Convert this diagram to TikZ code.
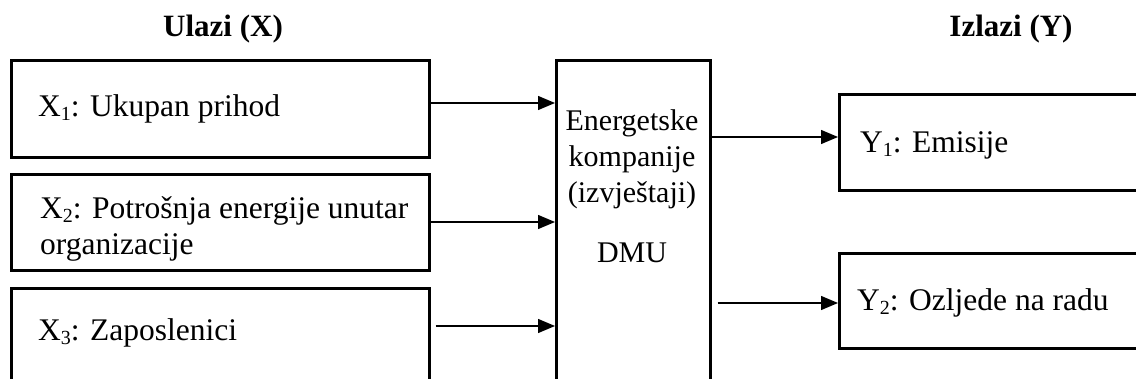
\documentclass[tikz,border=0pt]{standalone}
\usepackage{fontspec}
\setmainfont{Liberation Serif}
\usetikzlibrary{arrows.meta}
\newcommand\subdig[1]{\raisebox{-3.5pt}{\fontsize{20}{20}\selectfont #1}}
\begin{document}
\begin{tikzpicture}[x=1pt,y=-1pt,
  boxnode/.style={draw,line width=2.6pt,inner sep=0pt,anchor=north west},
  boxtext/.style={anchor=base west,inner sep=0pt,font=\fontsize{31.5}{36}\selectfont},
  dmutext/.style={anchor=base,inner sep=0pt,font=\fontsize{30}{34}\selectfont},
  titletext/.style={anchor=base,inner sep=0pt,font=\fontsize{31}{36}\selectfont\bfseries},
  arr/.style={line width=1.3pt,-{Triangle[length=17pt,width=14pt]}}]
\useasboundingbox (0,0) rectangle (1136,379);
\clip (0,0) rectangle (1136,379);
% titles
\node[titletext] (tin) at (223,37) {Ulazi (X)};
\node[titletext] (tout) at (1011,37) {Izlazi (Y)};
% input boxes
\node[boxnode,minimum width=418pt,minimum height=97pt] (x1) at (10,59) {};
\node[boxnode,minimum width=418pt,minimum height=96pt] (x2) at (10,173) {};
\node[boxnode,minimum width=418pt,minimum height=140pt] (x3) at (10,287) {};
% DMU box
\node[boxnode,minimum width=154pt,minimum height=370pt] (dmu) at (555,59) {};
% output boxes
\node[boxnode,minimum width=340pt,minimum height=96pt] (y1) at (838,93) {};
\node[boxnode,minimum width=340pt,minimum height=95pt] (y2) at (838,252) {};
% texts
\node[boxtext] (tx1) at (38,117) {X\subdig{1}: Ukupan prihod};
\node[boxtext] (tx2a) at (40,219) {X\subdig{2}: Potrošnja energije unutar};
\node[boxtext] (tx2b) at (40,255) {organizacije};
\node[boxtext] (tx3) at (38,341) {X\subdig{3}: Zaposlenici};
\node[dmutext] (d1) at (632,131) {Energetske};
\node[dmutext] (d2) at (632,167) {kompanije};
\node[dmutext] (d3) at (632,203) {(izvještaji)};
\node[dmutext] (d4) at (632,263) {DMU};
\node[boxtext] (ty1) at (860,153) {Y\subdig{1}: Emisije};
\node[boxtext] (ty2) at (857,311) {Y\subdig{2}: Ozljede na radu};
% arrows
\draw[arr] (x1.east |- 0,103) -- (dmu.west |- 0,103);
\draw[arr] (x2.east |- 0,222) -- (dmu.west |- 0,222);
\draw[arr] ([xshift=5pt]x3.east |- 0,326) -- (dmu.west |- 0,326);
\draw[arr] (dmu.east |- 0,137) -- (y1.west |- 0,137);
\draw[arr] ([xshift=6pt]dmu.east |- 0,303) -- (y2.west |- 0,303);
\end{tikzpicture}
\end{document}
